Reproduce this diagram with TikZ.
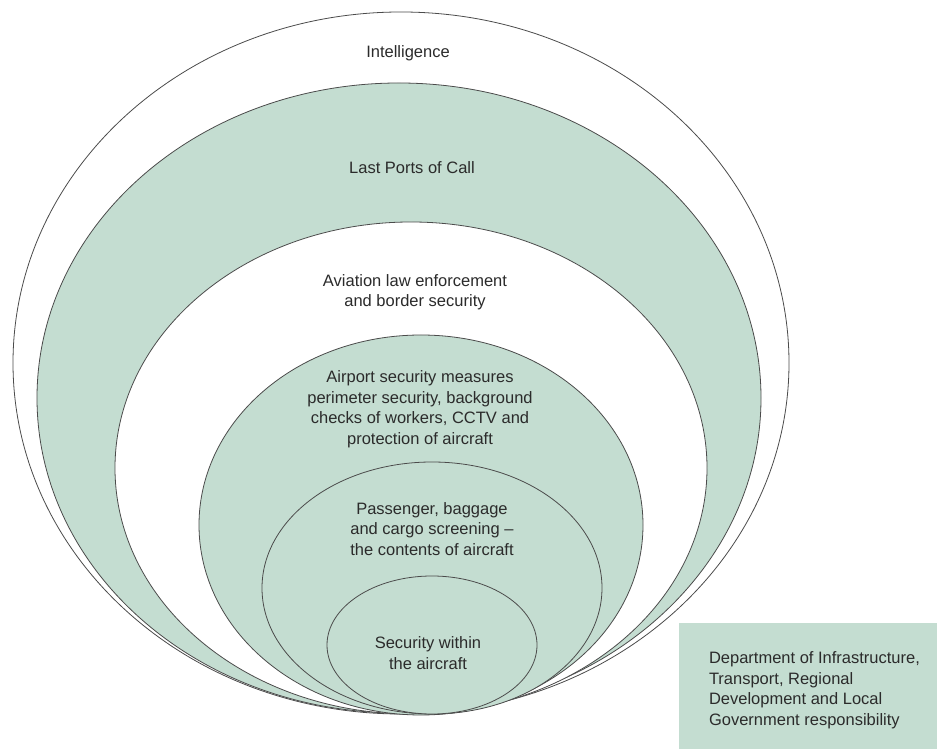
\documentclass[tikz,border=0pt]{standalone}
\usepackage{fontspec}
\setmainfont{Liberation Sans}
\usetikzlibrary{shapes.geometric,positioning}
\definecolor{ink}{HTML}{2B2B2B}
\definecolor{sage}{HTML}{C4DDD1}

\begin{document}
\begin{tikzpicture}[
  x=1pt, y=1pt,
  font=\fontsize{16.5}{20.5}\selectfont,
  ring/.style={ellipse, draw=ink!85, line width=.8pt, inner sep=0pt, fill=#1},
  ring/.default=sage,
  lbl/.style={align=center, inner sep=0pt, text=ink},
  panel/.style={fill=sage, inner sep=0pt},
]
\useasboundingbox (0,0) rectangle (937,749);

%% ---------------- nested layers, outermost first ----------------
\node[ring=white, minimum width=776pt, minimum height=702pt] (intel)  at (401, 386) {};
\node[ring,       minimum width=724pt, minimum height=630pt] (ports)  at (399, 351) {};
\node[ring=white, minimum width=592pt, minimum height=492pt] (law)    at (411, 281) {};
\node[ring,       minimum width=444pt, minimum height=380pt] (apt)    at (421, 224) {};
\node[ring,       minimum width=340pt, minimum height=252pt] (screen) at (432, 161) {};
\node[ring,       minimum width=210pt, minimum height=138pt] (inside) at (432, 104) {};

%% ---------------- layer captions ----------------
\node[lbl] (intellbl)  at (408, 696) {Intelligence};
\node[lbl] (portslbl)  at (412, 581) {Last Ports of Call};
\node[lbl] (lawlbl)    at (415, 457) {Aviation law enforcement\\and border security};
\node[lbl] (aptlbl)    at (420, 340)
  {Airport security measures\\perimeter security, background\\checks of workers, CCTV and\\protection of aircraft};
\node[lbl] (screenlbl) at (432, 220)
  {Passenger, baggage\\and cargo screening --\\the contents of aircraft};
\node[lbl] (insidelbl) at (428, 96) {Security within\\the aircraft};

%% ---------------- responsibility key (bottom right) ----------------
\node[panel, minimum width=258pt, minimum height=126pt] (dept) at (808, 63) {};
\node[lbl, align=left, anchor=west, right=30pt of dept.west, yshift=-4pt] (deptlbl)
  {Department of Infrastructure,\\Transport, Regional\\Development and Local\\Government responsibility};

\end{tikzpicture}
\end{document}
